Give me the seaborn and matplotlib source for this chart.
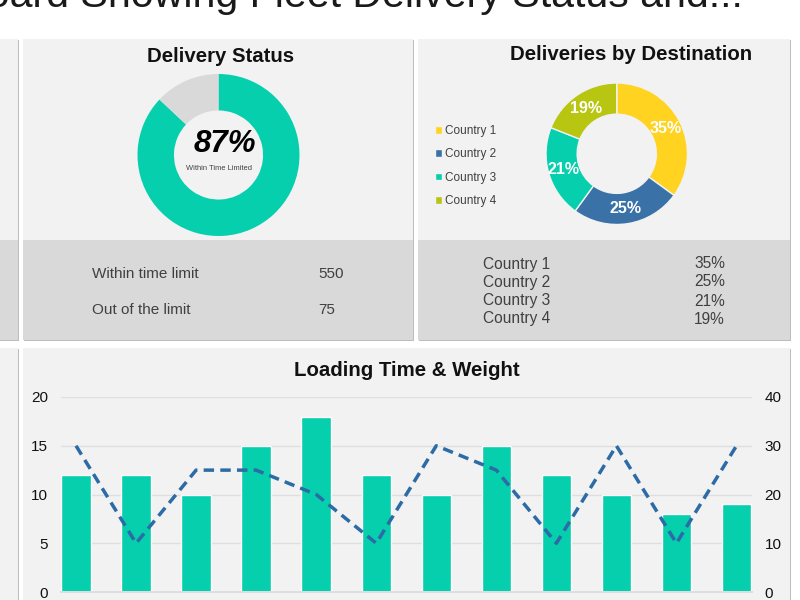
import numpy as np
import pandas as pd
import seaborn as sns
import matplotlib.pyplot as plt
from matplotlib.patches import Rectangle

# values
status_labels = ['Within time limit', 'Out of the limit']
status_counts = [550, 75]
status_share = [87, 13]

countries = ['Country 1', 'Country 2', 'Country 3', 'Country 4']
country_share = [35, 25, 21, 19]

loading_time = [12, 12, 10, 15, 18, 12, 10, 15, 12, 10, 8, 9]
weight = [30, 10, 25, 25, 20, 10, 30, 25, 10, 30, 10, 30]

TEAL = '#05CFAD'
GREY = '#D9D9D9'
PANEL = '#F2F2F2'
BLUE = '#2C6BA5'
DONUT_COLORS = ['#FFD320', '#3A72A8', TEAL, '#B8C511']
TEXT = '#404040'

sns.set_theme(style='white')
plt.rcParams['font.family'] = ['Liberation Sans', 'DejaVu Sans']

fig = plt.figure(figsize=(8, 6), dpi=100, facecolor='white')


def px_axes(x, y, w, h):
    # axes placed in picture pixels, y counted from the top
    return fig.add_axes([x / 800, 1 - (y + h) / 600, w / 800, h / 600], facecolor='none')


# background panels
bg = fig.add_axes([0, 0, 1, 1])
bg.set_xlim(0, 800)
bg.set_ylim(600, 0)
bg.axis('off')


def panel(x, y, w, h, color):
    bg.add_patch(Rectangle((x + 1, y + 1), w, h, color='#BDBDBD', lw=0))
    bg.add_patch(Rectangle((x, y), w, h, color=color, lw=0))


panel(-5, 39, 23, 201, PANEL)
panel(-5, 240, 23, 100, GREY)
panel(23, 39, 390, 201, PANEL)
panel(23, 240, 390, 100, GREY)
panel(418, 39, 372, 201, PANEL)
panel(418, 240, 372, 100, GREY)
panel(-5, 348, 23, 260, PANEL)
panel(23, 348, 767, 260, PANEL)

bg.text(743, 7, 'Dashboard Showing Fleet Delivery Status and...', fontsize=29.6,
        ha='right', va='baseline', color='#1a1a1a')

# delivery status
bg.text(221, 56, 'Delivery Status', fontsize=14.7, fontweight='bold', ha='center',
        va='center', color='#111111')
ax1 = px_axes(137.5, 74, 162, 162)
ax1.pie(status_share, colors=[TEAL, GREY], startangle=90, counterclock=False, radius=1,
        wedgeprops=dict(width=0.45, linewidth=0))
ax1.set_xlim(-1, 1)
ax1.set_ylim(-1, 1)
bg.text(225, 144, '87%', fontsize=22.5, fontweight='bold', fontstyle='italic', ha='center',
        va='center', color='black')
bg.text(218.5, 169, 'Within Time Limited', fontsize=5.4, ha='center', va='center', color=TEXT)

for y, lab, val in zip([273.5, 310.5], status_labels, status_counts):
    bg.text(92, y, lab, fontsize=11, ha='left', va='center', color=TEXT)
    bg.text(318, y, str(val), fontsize=11, ha='left', va='center', color=TEXT)

# deliveries by destination
bg.text(631, 54, 'Deliveries by Destination', fontsize=14.7, fontweight='bold', ha='center',
        va='center', color='#111111')
ax2 = px_axes(546, 83, 141.5, 141.5)
wedges, _, autotexts = ax2.pie(country_share, colors=DONUT_COLORS, startangle=90,
                               counterclock=False, radius=1, autopct='%.0f%%', pctdistance=0.78,
                               wedgeprops=dict(width=0.44, linewidth=1, edgecolor=PANEL),
                               textprops=dict(color='white', fontweight='bold', fontsize=11.5))
ax2.set_xlim(-1, 1)
ax2.set_ylim(-1, 1)
for t in autotexts:
    t.set_clip_on(False)
leg = fig.legend(wedges, countries, loc='center left', bbox_to_anchor=(424 / 800, 1 - 166 / 600),
                 frameon=False, fontsize=8.5, handlelength=0.65, handleheight=0.65,
                 handletextpad=0.2, labelspacing=0.95, labelcolor=TEXT)

for y, lab, val in zip([264, 282, 301, 319], countries, country_share):
    bg.text(483, y, lab, fontsize=11.2, ha='left', va='center', color=TEXT)
    bg.text(725, y, f'{val}%', fontsize=11.2, ha='right', va='center', color=TEXT)

# loading time and weight
bg.text(407, 371, 'Loading Time & Weight', fontsize=14.7, fontweight='bold', ha='center',
        va='center', color='#111111')
df = pd.DataFrame({'slot': np.arange(len(loading_time)), 'time': loading_time, 'weight': weight})
ax3 = px_axes(61, 397, 690.5, 195)
sns.barplot(data=df, x='slot', y='time', color=TEAL, width=0.49, saturation=1, ax=ax3, zorder=2)
ax3.set_xlim(-0.25, 11.25)
ax3.set_ylim(0, 20)
ax3.set_yticks([0, 5, 10, 15, 20])
ax3.set_xticks([])
ax3.set_xlabel('')
ax3.set_ylabel('')
ax3.grid(axis='y', color='#DEDEDE', lw=1)
ax3.set_axisbelow(True)
ax3.tick_params(axis='y', length=0, pad=9.5, labelsize=11, labelcolor='#111111')

ax4 = ax3.twinx()
sns.lineplot(data=df, x='slot', y='weight', color=BLUE, lw=2.5, ax=ax4, zorder=3)
ax4.lines[0].set_dashes((3, 1.8))
ax4.set_ylim(0, 40)
ax4.set_yticks([0, 10, 20, 30, 40])
ax4.set_xlabel('')
ax4.set_ylabel('')
ax4.grid(False)
ax4.tick_params(axis='y', length=0, pad=9.5, labelsize=11, labelcolor='#111111')
ax4.patch.set_visible(False)

for a in (ax3, ax4):
    for name, spine in a.spines.items():
        spine.set_visible(name == 'bottom')
        spine.set_color('#DEDEDE')

fig.savefig('out.png', dpi=100)
